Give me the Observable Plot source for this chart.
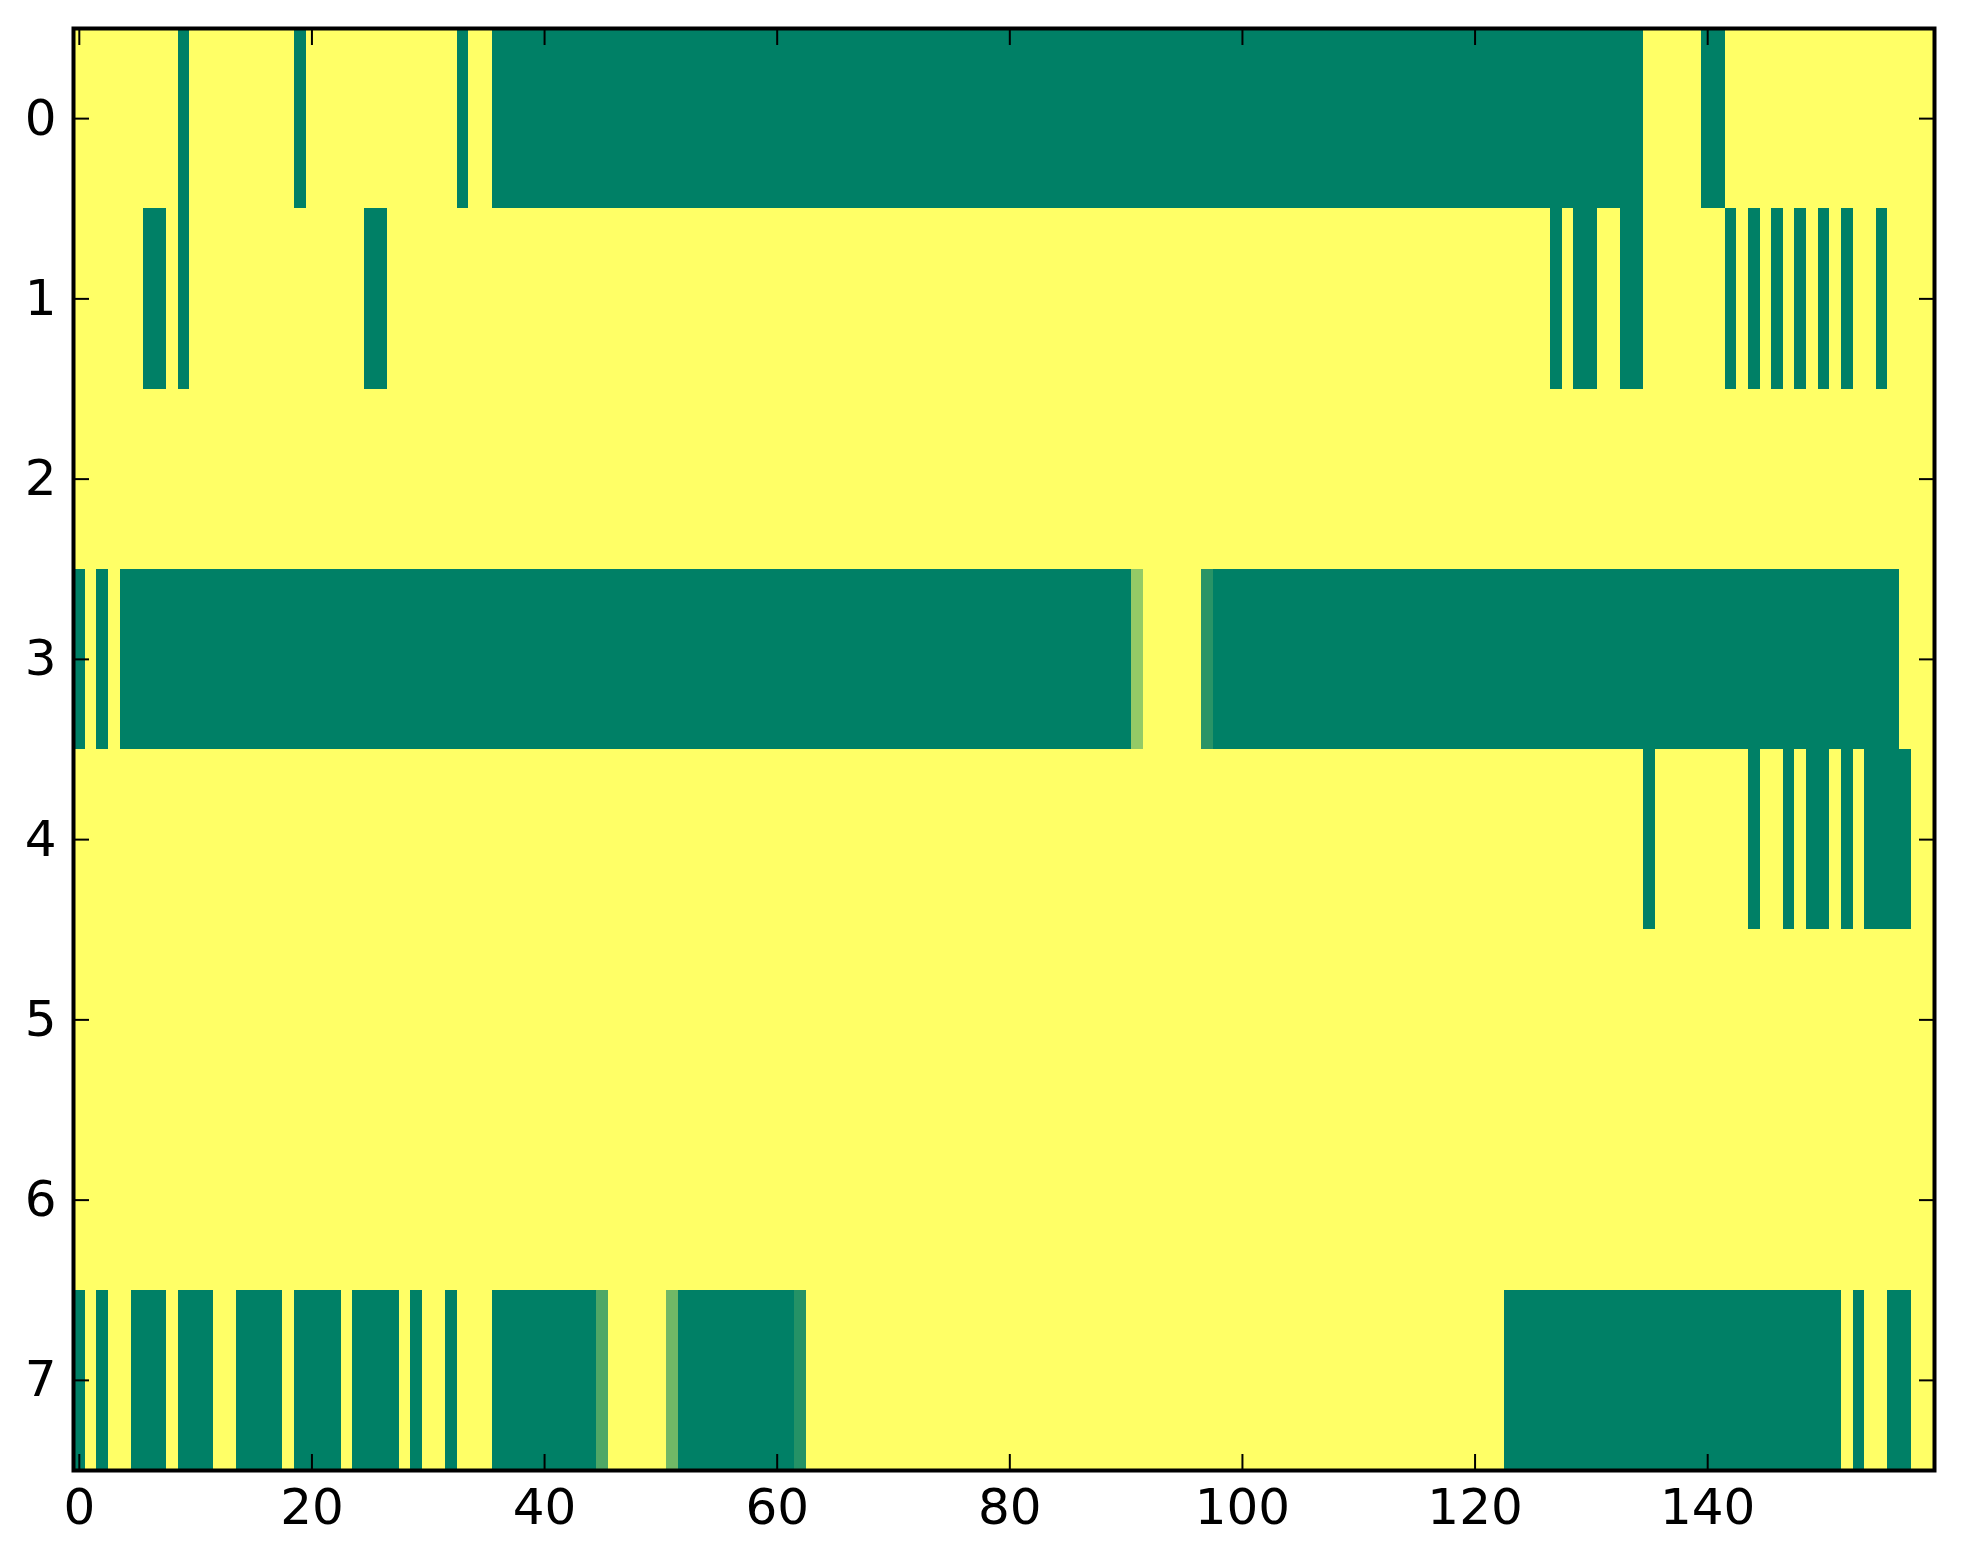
<!DOCTYPE html>
<html>
<head>
<meta charset="utf-8">
<script src="https://cdn.jsdelivr.net/npm/d3@7"></script>
<script src="https://cdn.jsdelivr.net/npm/@observablehq/plot@0.6"></script>
<style>
  html, body { margin: 0; padding: 0; background: #fff; }
  #chart svg { display: block; }
</style>
</head>
<body>
<div id="chart"></div>
<script>
// Grid size: rows 0..7, columns 0..159. Cells default to value 1 (yellow).
const nCols = 160;
const rowIds = [0, 1, 2, 3, 4, 5, 6, 7];
const xTicks = [0, 20, 40, 60, 80, 100, 120, 140];
const yTicks = [0, 1, 2, 3, 4, 5, 6, 7];

// Runs of non-yellow cells per row: [firstCol, lastCol, value]
const row0Runs = [[9,9,0],[19,19,0],[33,33,0],[36,134,0],[140,141,0]];
const row1Runs = [[6,7,0],[9,9,0],[25,26,0],[127,127,0],[129,130,0],[133,134,0],
                  [142,142,0],[144,144,0],[146,146,0],[148,148,0],[150,150,0],[152,152,0],[155,155,0]];
const row2Runs = [];
const row3Runs = [[0,0,0],[2,2,0],[4,90,0],[91,91,0.58],[97,97,0.16],[98,156,0]];
const row4Runs = [[135,135,0],[144,144,0],[147,147,0],[149,150,0],[152,152,0],[154,157,0]];
const row5Runs = [];
const row6Runs = [];
const row7Runs = [[0,0,0],[2,2,0],[5,7,0],[9,11,0],[14,17,0],[19,22,0],[24,27,0],[29,29,0],[32,32,0],
                  [36,44,0],[45,45,0.31],[51,51,0.44],[52,61,0],[62,62,0.14],[123,151,0],[153,153,0],[156,157,0]];
const allRuns = [row0Runs, row1Runs, row2Runs, row3Runs, row4Runs, row5Runs, row6Runs, row7Runs];

// Build the full cell table
const cells = [];
rowIds.forEach((r) => {
  const vals = new Array(nCols).fill(1);
  for (const [a, b, v] of allRuns[r]) for (let c = a; c <= b; c++) vals[c] = v;
  vals.forEach((v, c) => cells.push({row: r, col: c, value: v}));
});

const font = "DejaVu Sans";
const intFmt = (d) => String(d);
const chart = Plot.plot({
  width: 1963,
  height: 1564,
  marginLeft: 73,
  marginRight: 29,
  marginTop: 28,
  marginBottom: 94,
  style: {fontFamily: font, fontSize: "50px", background: "#fff", color: "#000"},
  x: {type: "linear", domain: [-0.5, nCols - 0.5], label: null},
  y: {type: "linear", domain: [7.5, -0.5], label: null},
  color: {type: "linear", domain: [0, 1], range: ["#008066", "#ffff66"], interpolate: "rgb"},
  marks: [
    Plot.rect(cells, {
      x1: (d) => d.col - 0.5, x2: (d) => d.col + 0.5,
      y1: (d) => d.row - 0.5, y2: (d) => d.row + 0.5,
      fill: "value", shapeRendering: "crispEdges"
    }),
    // inward ticks on all four sides
    Plot.axisX(xTicks, {anchor: "bottom", tickSize: -16, text: null, strokeWidth: 2, label: null}),
    Plot.axisX(xTicks, {anchor: "top", tickSize: -16, text: null, strokeWidth: 2, label: null}),
    Plot.axisY(yTicks, {anchor: "left", tickSize: -16, text: null, strokeWidth: 2, label: null}),
    Plot.axisY(yTicks, {anchor: "right", tickSize: -16, text: null, strokeWidth: 2, label: null}),
    // tick labels
    Plot.axisX(xTicks, {anchor: "bottom", tickSize: 0, tickPadding: 18, fontSize: 50, tickFormat: intFmt, label: null}),
    Plot.axisY(yTicks, {anchor: "left", tickSize: 0, tickPadding: 17, fontSize: 50, tickFormat: intFmt, label: null}),
    Plot.frame({stroke: "#000", strokeWidth: 4})
  ]
});
document.getElementById("chart").appendChild(chart);
</script>
</body>
</html>
